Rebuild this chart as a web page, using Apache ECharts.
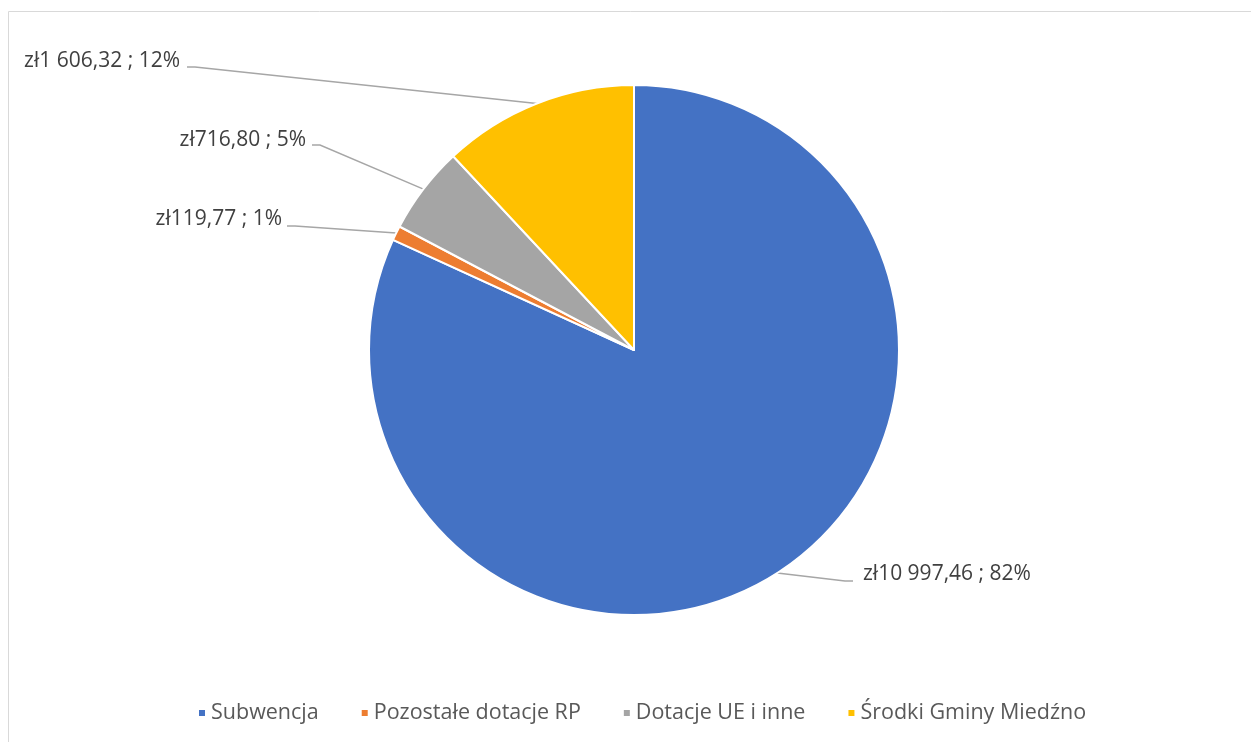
<!DOCTYPE html>
<html><head><meta charset="utf-8">
<script src="https://cdn.jsdelivr.net/npm/echarts@6/dist/echarts.min.js"></script>
<style>html,body{margin:0;padding:0;background:#fff}#c{width:1251px;height:742px}</style>
</head><body><div id="c"></div>
<script>
const categories = ['Subwencja', 'Pozostałe dotacje RP', 'Dotacje UE i inne', 'Środki Gminy Miedźno'];
const values = [10997.46, 119.77, 716.80, 1606.32];
const valueLabels = ['zł10 997,46', 'zł119,77', 'zł716,80', 'zł1 606,32'];
const percentLabels = ['82%', '1%', '5%', '12%'];
const colors = ['#4472C4', '#ED7D31', '#A5A5A5', '#FFC000'];

const FONT = 'Open Sans';
const CX = 634, CY = 350, R = 265;
const labelPos = [
  {x: 863, y: 574, align: 'left',  lx: 853, ly: 581},
  {x: 282, y: 219, align: 'right', lx: 287, ly: 226},
  {x: 306, y: 140, align: 'right', lx: 312, ly: 145},
  {x: 180, y: 61,  align: 'right', lx: 187, ly: 67}
];
const total = values.reduce((a, b) => a + b, 0);
function midPoint(i) {
  let before = 0;
  for (let k = 0; k < i; k++) before += values[k];
  const frac = (before + values[i] / 2) / total;
  const a = frac * 2 * Math.PI;
  return [CX + R * Math.sin(a), CY - R * Math.cos(a)];
}

const chart = echarts.init(document.getElementById('c'));
chart.setOption({
  animation: false,
  color: colors,
  graphic: [{
    type: 'rect', shape: {x: 8.5, y: 11.5, width: 1300, height: 800},
    style: {fill: 'none', stroke: '#D9D9D9', lineWidth: 1}, silent: true
  }],
  legend: {
    bottom: 13, left: 192,
    itemWidth: 8, itemHeight: 8, itemGap: 41, icon: 'rect',
    textStyle: {fontFamily: FONT, fontSize: 21.5, color: '#595959'},
    data: categories
  },
  series: [{
    type: 'pie',
    center: [CX, CY],
    radius: [0, R],
    startAngle: 90,
    clockwise: true,
    itemStyle: {borderColor: '#fff', borderWidth: 2},
    label: {
      show: true,
      fontFamily: FONT, fontSize: 21, color: '#404040',
      formatter: p => valueLabels[p.dataIndex] + ' ; ' + percentLabels[p.dataIndex]
    },
    labelLine: {show: true, smooth: false, lineStyle: {color: '#A6A6A6', width: 1.5}},
    labelLayout: p => {
      const l = labelPos[p.dataIndex];
      const m = midPoint(p.dataIndex);
      const dir = l.align === 'left' ? -1 : 1;
      return {
        x: l.x, y: l.y, align: l.align, verticalAlign: 'middle',
        labelLinePoints: [m, [l.lx + dir * 8, l.ly], [l.lx, l.ly]]
      };
    },
    data: categories.map((n, i) => ({name: n, value: values[i]}))
  }]
});
</script></body></html>
